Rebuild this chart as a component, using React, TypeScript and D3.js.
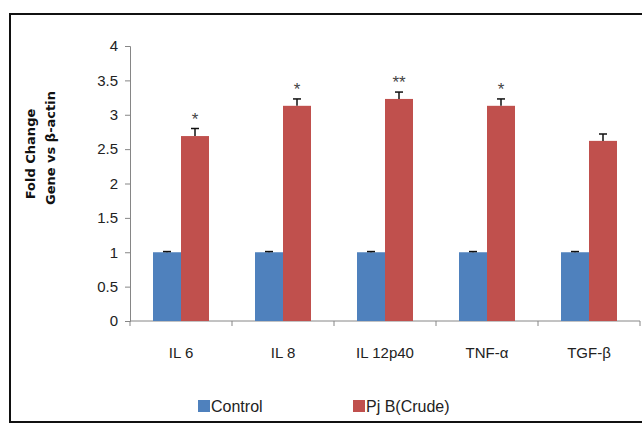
import React, { useEffect, useRef } from 'react';
import * as d3 from 'd3';

const genes = ['IL 6', 'IL 8', 'IL 12p40', 'TNF-α', 'TGF-β'];
const seriesNames = ['Control', 'Pj B(Crude)'];
const controlValues = [1, 1, 1, 1, 1];
const controlErrors = [0.01, 0.01, 0.01, 0.01, 0.01];
const crudeValues = [2.69, 3.13, 3.23, 3.13, 2.62];
const crudeErrors = [0.11, 0.1, 0.1, 0.1, 0.1];
const significance = ['*', '*', '**', '*', ''];
const yTicks = [0, 0.5, 1, 1.5, 2, 2.5, 3, 3.5, 4];
const colors = ['#4F81BD', '#C0504D'];

const App = () => {
  const chartRef = useRef<SVGSVGElement>(null);
  const width = 642;
  const height = 423;
  const margin = { top: 46, right: 2, bottom: 102, left: 130 };

  useEffect(() => {
    const svg = d3.select(chartRef.current)
      .attr('width', width)
      .attr('height', height);

    svg.selectAll('*').remove();

    const font = '"Liberation Sans", Arial, sans-serif';

    // outer frame (left, top, bottom)
    svg.append('path')
      .attr('d', `M${width},14H10V422H${width}`)
      .attr('fill', 'none')
      .attr('stroke', '#111')
      .attr('stroke-width', 2);

    const x = d3.scaleBand()
      .domain(genes)
      .range([margin.left, width - margin.right])
      .padding(0);

    const xSub = d3.scaleBand()
      .domain(seriesNames)
      .range([23, 79])
      .padding(0);

    const y = d3.scaleLinear()
      .domain([0, 4])
      .range([height - margin.bottom, margin.top]);

    const y0 = y(0);

    // y axis
    const yAxis = d3.axisLeft(y)
      .tickValues(yTicks)
      .tickSize(5)
      .tickPadding(7)
      .tickFormat((d) => String(d));

    const gy = svg.append('g')
      .attr('transform', `translate(${margin.left},0)`)
      .call(yAxis);
    gy.select('.domain').attr('stroke', '#868686');
    gy.selectAll('.tick line').attr('stroke', '#868686');
    gy.selectAll('.tick text')
      .attr('font-family', font)
      .attr('font-size', 15)
      .attr('fill', '#222');

    // x axis
    svg.append('line')
      .attr('x1', margin.left)
      .attr('x2', width - margin.right)
      .attr('y1', y0)
      .attr('y2', y0)
      .attr('stroke', '#868686');

    const edges = genes.map((g) => x(g) as number).concat([width - margin.right]);
    svg.selectAll('.xtick')
      .data(edges)
      .enter()
      .append('line')
      .attr('x1', (d) => d)
      .attr('x2', (d) => d)
      .attr('y1', y0)
      .attr('y2', y0 + 5)
      .attr('stroke', '#868686');

    svg.selectAll('.xlabel')
      .data(genes)
      .enter()
      .append('text')
      .attr('x', (d) => (x(d) as number) + x.bandwidth() / 2)
      .attr('y', 358)
      .attr('text-anchor', 'middle')
      .attr('font-family', font)
      .attr('font-size', 15)
      .attr('fill', '#222')
      .text((d) => d);

    // bars
    const rows = genes.map((g, i) => [
      { gene: g, series: seriesNames[0], value: controlValues[i], err: controlErrors[i], color: colors[0] },
      { gene: g, series: seriesNames[1], value: crudeValues[i], err: crudeErrors[i], color: colors[1] },
    ]).flat();

    svg.selectAll('.bar')
      .data(rows)
      .enter()
      .append('rect')
      .attr('x', (d) => (x(d.gene) as number) + (xSub(d.series) as number))
      .attr('y', (d) => y(d.value))
      .attr('width', xSub.bandwidth())
      .attr('height', (d) => y0 - y(d.value))
      .attr('fill', (d) => d.color);

    // error bars
    const errG = svg.selectAll('.err')
      .data(rows)
      .enter()
      .append('g')
      .attr('transform', (d) => `translate(${(x(d.gene) as number) + (xSub(d.series) as number) + xSub.bandwidth() / 2},0)`);

    errG.append('line')
      .attr('x1', 0)
      .attr('x2', 0)
      .attr('y1', (d) => y(d.value))
      .attr('y2', (d) => y(d.value + d.err))
      .attr('stroke', '#111')
      .attr('stroke-width', 1.5);

    errG.append('line')
      .attr('x1', -4)
      .attr('x2', 4)
      .attr('y1', (d) => y(d.value + d.err))
      .attr('y2', (d) => y(d.value + d.err))
      .attr('stroke', '#111')
      .attr('stroke-width', 1.5);

    // significance stars
    svg.selectAll('.star')
      .data(genes)
      .enter()
      .append('text')
      .attr('x', (d) => (x(d) as number) + (xSub(seriesNames[1]) as number) + xSub.bandwidth() / 2)
      .attr('y', (d, i) => y(crudeValues[i] + crudeErrors[i]) - 4)
      .attr('text-anchor', 'middle')
      .attr('font-family', font)
      .attr('font-size', 17)
      .attr('fill', '#444')
      .text((d, i) => significance[i]);

    // y axis title
    const title = svg.append('g')
      .attr('font-family', '"DejaVu Sans", sans-serif')
      .attr('font-weight', 'bold')
      .attr('font-size', 13)
      .attr('fill', '#111')
      .attr('text-anchor', 'middle');

    title.append('text')
      .attr('transform', 'translate(35,154) rotate(-90)')
      .text('Fold Change');
    title.append('text')
      .attr('transform', 'translate(55,148) rotate(-90)')
      .text('Gene vs β-actin');

    // legend
    const legendX = [198, 353];
    const legend = svg.selectAll('.legend')
      .data(seriesNames)
      .enter()
      .append('g')
      .attr('transform', (d, i) => `translate(${legendX[i]},400)`);

    legend.append('rect')
      .attr('width', 12)
      .attr('height', 12)
      .attr('fill', (d, i) => colors[i]);

    legend.append('text')
      .attr('x', 13)
      .attr('y', 12)
      .attr('font-family', font)
      .attr('font-size', 16)
      .attr('fill', '#222')
      .text((d) => d);
  }, []);

  return <svg ref={chartRef} style={{ position: 'absolute', left: 0, top: 0 }}></svg>;
};

export default App;
